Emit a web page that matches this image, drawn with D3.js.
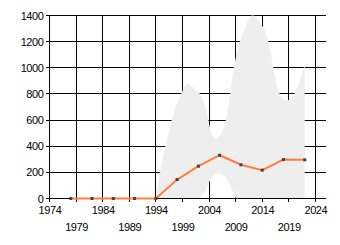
<html>
    <head>
        <title>Range chart</title>
        <script type="text/javascript" src="https://cdn.jsdelivr.net/npm/d3@7"></script>
        <style>
            body{
                margin: 0;
                background: white;
            }
            .grid line{
                stroke: black;
                stroke-width: 1px;
                shape-rendering: crispEdges;
            }
            .lbl{
                font-family: "Liberation Sans", Arial, sans-serif;
                font-size: 11px;
                letter-spacing: -0.4px;
                fill: black;
            }
            #band{
                fill: #eeeeee;
                stroke: none;
            }
            #trace{
                stroke: #ff7f41;
                stroke-width: 2px;
                fill: none;
            }
            .point{
                fill: #444;
                stroke: none;
            }
        </style>
    </head>
    <body>
        <script type="text/javascript">
            // Data
            let years = [1978,1982,1986,1990,1994,1998,2002,2006,2010,2014,2018,2022]
            let values = [0,0,0,0,0,145,247,331,258,217,298,296]
            let band_years = [1994,1998,2002,2006,2010,2014,2018,2022]
            let band_upper = [0,727,813,475,1220,1320,760,1030]
            let band_lower = [0,-60,-5,190,-40,-90,-130,-80]
            let x_ticks = [1974,1979,1984,1989,1994,1999,2004,2009,2014,2019,2024]
            let y_ticks = [0,200,400,600,800,1000,1200,1400]

            let w = 340
            let h = 245
            let svg = d3.select("body")
                        .append("svg")
                        .attr("width",w)
                        .attr("height",h)
            let xScale = d3.scaleLinear()
                            .domain([1974,2026])
                            .range([49.5,326])
            let yScale = d3.scaleLinear()
                            .domain([0,1400])
                            .range([198.5,15.5])

            // Grid + ticks
            let grid = svg.append("g").attr("class","grid")
            grid.selectAll(".hl")
                .data(y_ticks)
                .enter()
                .append("line")
                .attr("x1",45.5)
                .attr("x2",326)
                .attr("y1",d=>yScale(d))
                .attr("y2",d=>yScale(d))
            grid.selectAll(".vl")
                .data(x_ticks)
                .enter()
                .append("line")
                .attr("x1",d=>xScale(d))
                .attr("x2",d=>xScale(d))
                .attr("y1",yScale(1400))
                .attr("y2",202)

            // Band
            svg.append("clipPath")
                .attr("id","plot")
                .append("rect")
                .attr("x",49.5)
                .attr("y",yScale(1400))
                .attr("width",326-49.5)
                .attr("height",yScale(0)-yScale(1400))
            let bandData = band_years.map((y,i)=>[y,band_lower[i],band_upper[i]])
            let area = d3.area()
                            .curve(d3.curveCardinal.tension(-0.6))
                            .x(d=>xScale(d[0]))
                            .y0(d=>yScale(d[1]))
                            .y1(d=>yScale(d[2]))
            svg.append("path")
                .datum(bandData)
                .attr("id","band")
                .attr("clip-path","url(#plot)")
                .attr("d",area)

            // zero axis line on top
            svg.append("line")
                .attr("x1",45.5).attr("x2",326)
                .attr("y1",yScale(0)).attr("y2",yScale(0))
                .attr("stroke","black")
                .attr("shape-rendering","crispEdges")

            // Labels
            svg.selectAll(".ylbl")
                .data(y_ticks)
                .enter()
                .append("text")
                .attr("class","lbl")
                .attr("text-anchor","end")
                .attr("x",43.5)
                .attr("y",d=>yScale(d)+4)
                .text(d=>d)
            svg.selectAll(".xlbl")
                .data(x_ticks)
                .enter()
                .append("text")
                .attr("class","lbl")
                .attr("text-anchor","middle")
                .attr("x",d=>xScale(d)+0.5)
                .attr("y",(d,i)=> i%2==0 ? 213.5 : 230.5)
                .text(d=>d)

            // Series
            let dataset = years.map((y,i)=>[y,values[i]])
            let path = d3.line()
                            .x(d=>xScale(d[0]))
                            .y(d=>yScale(d[1]))
            svg.append("path")
                .datum(dataset)
                .attr("d",path)
                .attr("id","trace")
            svg.selectAll(".point")
                .data(dataset)
                .enter()
                .append("rect")
                .attr("class","point")
                .attr("x",d=>xScale(d[0])-1.5)
                .attr("y",d=>yScale(d[1])-1.5)
                .attr("width",3)
                .attr("height",3)
        </script>
    </body>
</html>
